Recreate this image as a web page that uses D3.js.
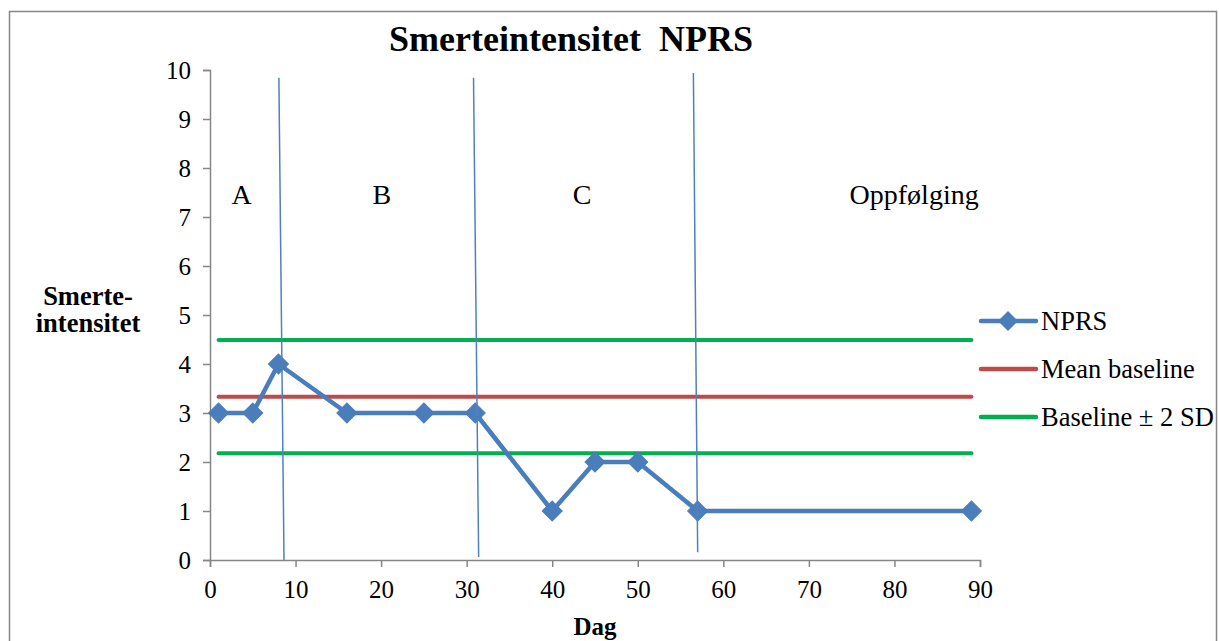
<!DOCTYPE html>
<html>
<head>
<meta charset="utf-8">
<script src="https://cdn.jsdelivr.net/npm/d3@7"></script>
<style>
  body { margin: 0; background: #fff; }
  svg text { font-family: "Liberation Serif", "DejaVu Serif", "Times New Roman", Times, serif; }
</style>
</head>
<body>
<div class="canvas"></div>
<script>
// data
const days = [1, 5, 8, 16, 25, 31, 40, 45, 50, 57, 89];
const nprs = [3, 3, 4, 3, 3, 3, 1, 2, 2, 1, 1];
const meanBaseline = 3.33;
const upperSD = 4.49;
const lowerSD = 2.18;
const refRange = [1, 89];
const xTicks = [0, 10, 20, 30, 40, 50, 60, 70, 80, 90];
const yTicks = [0, 1, 2, 3, 4, 5, 6, 7, 8, 9, 10];
// phase separators, drawn by hand in the original so slightly tilted
const phaseTop = [8.05, 30.8, 56.5];
const phaseBottom = [8.65, 31.4, 57.0];
const phaseTopY = [9.84, 9.84, 9.94];
const phaseBottomY = [0.0, 0.06, 0.16];
const phaseNames = ["A", "B", "C", "Oppfølging"];
const phaseNameX = [3.7, 20.1, 43.5, 82.3];
const phaseNameY = 7.45;

const serif = '"Liberation Serif", "DejaVu Serif", "Times New Roman", Times, serif';

const width = 1219;
const height = 641;
const margin = { top: 70, right: 239, bottom: 81, left: 210 };
const graphWidth = width - margin.left - margin.right;
const graphHeight = height - margin.top - margin.bottom;

const svg = d3
  .select(".canvas")
  .append("svg")
  .attr("width", width)
  .attr("height", height)
  .attr("font-family", serif);

// outer chart border
svg
  .append("rect")
  .attr("x", 9.5)
  .attr("y", 11.5)
  .attr("width", 1207)
  .attr("height", 700)
  .attr("fill", "none")
  .attr("stroke", "#868686")
  .attr("stroke-width", 1.5);

const graph = svg
  .append("g")
  .attr("transform", `translate(${margin.left}, ${margin.top})`);

// scales
const x = d3.scaleLinear().domain([0, 90]).range([0, graphWidth]);
const y = d3.scaleLinear().domain([0, 10]).range([graphHeight, 0]);

// axes
const xAxis = d3.axisBottom(x).tickValues(xTicks).tickSizeOuter(0).tickSize(7).tickPadding(13);
const yAxis = d3.axisLeft(y).tickValues(yTicks).tickSizeOuter(0).tickSize(7).tickPadding(12);

const xAxisGroup = graph
  .append("g")
  .attr("transform", `translate(0, ${graphHeight})`)
  .call(xAxis);
const yAxisGroup = graph.append("g").call(yAxis);

[xAxisGroup, yAxisGroup].forEach((g) => {
  g.attr("font-family", serif).attr("font-size", 25);
  g.select(".domain").attr("stroke", "#868686").attr("stroke-width", 1.5);
  g.selectAll(".tick line").attr("stroke", "#868686").attr("stroke-width", 1.5);
  g.selectAll(".tick text").attr("fill", "#000").style("font-family", serif);
});
yAxisGroup.selectAll(".tick text").attr("dy", "0.34em");
xAxisGroup.selectAll(".tick text").attr("dy", "0.71em");

// reference lines
const hLines = [
  { v: upperSD, color: "#00b050" },
  { v: lowerSD, color: "#00b050" },
  { v: meanBaseline, color: "#be4b48" },
];
graph
  .selectAll(".ref")
  .data(hLines)
  .enter()
  .append("line")
  .attr("x1", x(refRange[0]))
  .attr("x2", x(refRange[1]))
  .attr("y1", (d) => y(d.v))
  .attr("y2", (d) => y(d.v))
  .attr("stroke", (d) => d.color)
  .attr("stroke-width", 4)
  .attr("stroke-linecap", "round");

// NPRS line
const line = d3
  .line()
  .x((d, i) => x(days[i]))
  .y((d) => y(d));

graph
  .append("path")
  .datum(nprs)
  .attr("fill", "none")
  .attr("stroke", "#4a7ebb")
  .attr("stroke-width", 4.5)
  .attr("stroke-linejoin", "round")
  .attr("d", line);

const diamond = d3.symbol().type(d3.symbolSquare).size(200);
graph
  .selectAll(".pt")
  .data(nprs)
  .enter()
  .append("path")
  .attr("d", diamond)
  .attr("transform", (d, i) => `translate(${x(days[i])}, ${y(d)}) rotate(45)`)
  .attr("fill", "#4a7ebb")
  .attr("stroke", "#4a7ebb")
  .attr("stroke-width", 1);

// phase separators
graph
  .selectAll(".phase")
  .data(phaseTop)
  .enter()
  .append("line")
  .attr("x1", (d) => x(d))
  .attr("y1", (d, i) => y(phaseTopY[i]))
  .attr("x2", (d, i) => x(phaseBottom[i]))
  .attr("y2", (d, i) => y(phaseBottomY[i]))
  .attr("stroke", "#4f81bd")
  .attr("stroke-width", 1.5);

graph
  .selectAll(".phase-name")
  .data(phaseNames)
  .enter()
  .append("text")
  .attr("x", (d, i) => x(phaseNameX[i]))
  .attr("y", y(phaseNameY))
  .attr("dy", "0.33em")
  .attr("text-anchor", "middle")
  .style("font-family", serif)
  .style("font-size", "28px")
  .text((d) => d);

// title
svg
  .append("text")
  .attr("x", 571)
  .attr("y", 51)
  .attr("text-anchor", "middle")
  .style("font-family", serif)
  .style("font-size", "36px")
  .style("font-weight", "bold")
  .style("white-space", "pre")
  .text("Smerteintensitet  NPRS");

// axis titles
const yTitle = svg
  .append("text")
  .attr("x", 88)
  .attr("y", 305)
  .attr("text-anchor", "middle")
  .style("font-family", serif)
  .style("font-size", "26.5px")
  .style("font-weight", "bold");
yTitle.append("tspan").attr("x", 88).text("Smerte-");
yTitle.append("tspan").attr("x", 88).attr("dy", 27).text("intensitet");

svg
  .append("text")
  .attr("x", x(45) + margin.left)
  .attr("y", 635)
  .attr("text-anchor", "middle")
  .style("font-family", serif)
  .style("font-size", "25px")
  .style("font-weight", "bold")
  .text("Dag");

// legend
const legendItems = [
  { name: "NPRS", color: "#4a7ebb", marker: true },
  { name: "Mean baseline", color: "#be4b48", marker: false },
  { name: "Baseline ± 2 SD", color: "#00b050", marker: false },
];
const legend = svg
  .append("g")
  .attr("transform", "translate(981, 321)");
const li = legend
  .selectAll(".li")
  .data(legendItems)
  .enter()
  .append("g")
  .attr("transform", (d, i) => `translate(0, ${i * 48})`);
li.append("line")
  .attr("x1", 0)
  .attr("x2", 55)
  .attr("stroke", (d) => d.color)
  .attr("stroke-width", 4.5)
  .attr("stroke-linecap", "round");
li.filter((d) => d.marker)
  .append("path")
  .attr("d", diamond)
  .attr("transform", "translate(27, 0) rotate(45)")
  .attr("fill", "#4a7ebb");
li.append("text")
  .attr("x", 60)
  .attr("dy", "0.33em")
  .style("font-family", serif)
  .style("font-size", "26.5px")
  .text((d) => d.name);
</script>
</body>
</html>
